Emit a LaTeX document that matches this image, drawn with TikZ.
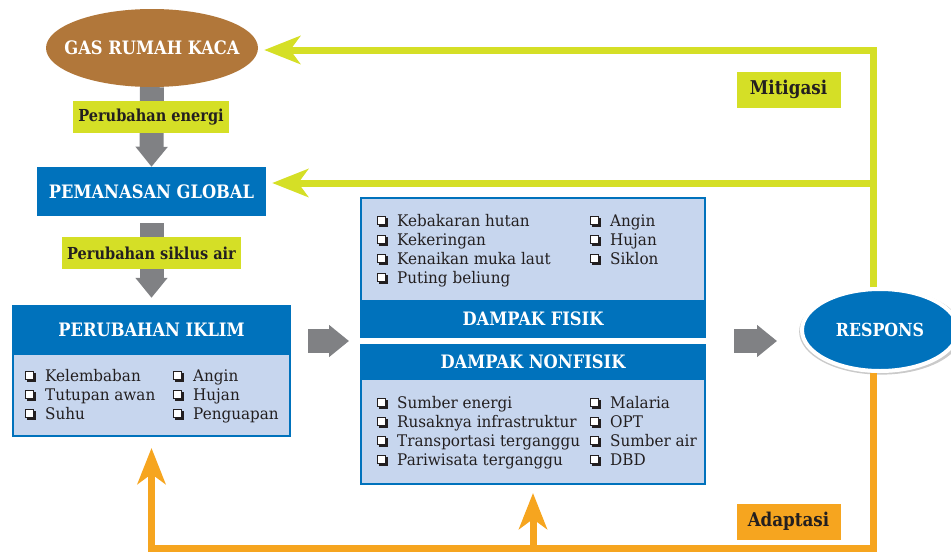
\documentclass[tikz,border=0pt]{standalone}
\usepackage{fontspec}
\setmainfont{DejaVu Serif}[FakeStretch=0.95]
\newfontfamily\tebal{DejaVu Serif}[FakeStretch=0.88]
\usetikzlibrary{arrows.meta,shapes.geometric,shadows}
\definecolor{kaca}{HTML}{B1773A}
\definecolor{biru}{HTML}{0072BC}
\definecolor{birumuda}{HTML}{C7D6EE}
\definecolor{hijau}{HTML}{D5DF26}
\definecolor{jingga}{HTML}{F6A51F}
\definecolor{abu}{HTML}{808184}
\definecolor{ink}{HTML}{231F20}

\tikzset{
	judul/.style={text=white, font=\tebal\bfseries\fontsize{18.5}{22}\selectfont},
	tagbox/.style={text=ink, inner sep=0pt, minimum height=32pt, font=\tebal\bfseries\fontsize{16.5}{20}\selectfont},
	item/.style={anchor=base west, inner sep=0pt, text=ink, font=\fontsize{16}{19}\selectfont},
	kotak/.style={draw=biru, line width=2pt, fill=birumuda},
	blok/.style={abu, line width=24pt, -{Triangle[length=20pt, width=31pt]}},
	mitline/.style={hijau, line width=7pt, -{Stealth[length=36pt, width=28pt, inset=10pt]}},
	adaline/.style={jingga, line width=7pt, -{Stealth[length=36pt, width=28pt, inset=10pt]}}
}

% one list entry: name, x, baseline, text
\newcommand{\checkitem}[4]{
	\fill[ink] (#2+2, -#3-1) rectangle (#2+11, -#3+8);
	\filldraw[fill=white, draw=ink, line width=1pt] (#2, -#3+1.5) rectangle (#2+8.5, -#3+10);
	\node[item] (#1) at (#2+20, -#3) {#4};
}

\begin{document}
\begin{tikzpicture}[x=1pt, y=1pt]
	\useasboundingbox (0, 0) rectangle (951, -552);

	% chain on the left
	\node[ellipse, fill=kaca, inner sep=0pt, minimum width=212pt, minimum height=78pt, judul] (gas) at (152, -48) {\makebox[0pt]{GAS RUMAH KACA}};
	\node[fill=biru, minimum width=229pt, minimum height=49pt, judul] (pemanasan) at (151.5, -191.5) {PEMANASAN GLOBAL};
	\node[kotak, minimum width=277pt, minimum height=130pt] (iklim) at (151.5, -371) {};
	\node[fill=biru, minimum width=279pt, minimum height=50pt, judul] (iklimjudul) at (151.5, -330) {PERUBAHAN IKLIM};

	% the two impact boxes
	\node[kotak, minimum width=344pt, minimum height=139pt] (fisik) at (533, -267.5) {};
	\node[fill=biru, minimum width=346pt, minimum height=38pt, judul] (fisikjudul) at (533, -319) {DAMPAK FISIK};
	\node[kotak, minimum width=344pt, minimum height=139pt] (nonfisik) at (533, -414.5) {};
	\node[fill=biru, minimum width=346pt, minimum height=36pt, judul] (nonfisikjudul) at (533, -362) {DAMPAK NONFISIK};
	\coordinate (dampak) at (533, -341);

	\node[ellipse, fill=biru, draw=white, line width=4pt, minimum width=156pt, minimum height=82pt,
		drop shadow={opacity=0.35, fill=black!60, shadow xshift=1pt, shadow yshift=-1.5pt, shadow scale=1.05},
		judul, font=\tebal\bfseries\fontsize{18}{22}\selectfont] (respons) at (880, -330) {RESPONS};

	% grey block arrows
	\draw[blok] (gas.south) -- (pemanasan.north);
	\draw[blok, shorten <=7pt, shorten >=7pt] (pemanasan.south) -- (iklimjudul.north);
	\draw[blok, shorten <=17pt, shorten >=11pt] (iklim.east |- dampak) -- (fisik.west |- dampak);
	\draw[blok, shorten <=28pt, shorten >=23pt] (fisik.east |- dampak) -- (respons.west |- dampak);

	\node[tagbox, fill=hijau, minimum width=156pt] (energi) at (151, -117) {Perubahan energi};
	\node[tagbox, fill=hijau, minimum width=179pt] (siklus) at (151.5, -253) {Perubahan siklus air};

	% mitigation lines
	\coordinate (mitatas) at (873, -50);
	\coordinate (mittengah) at (873, -183);
	\draw[mitline, shorten >=6pt] (respons.north -| mitatas) -- (mitatas) -- (mitatas -| gas.east);
	\draw[mitline, shorten >=6pt] (mittengah) -- (mittengah -| pemanasan.east);
	\node[tagbox, fill=hijau, minimum width=104pt, minimum height=36pt, font=\tebal\bfseries\fontsize{19}{22}\selectfont] (mitigasi) at (788.5, -89.5) {Mitigasi};

	% adaptation lines
	\coordinate (adabawah) at (873, -548);
	\draw[adaline, shorten >=11pt] (respons.south -| adabawah) -- (adabawah) -- (adabawah -| iklim.south) -- (iklim.south);
	\draw[adaline, shorten >=8pt] (adabawah -| nonfisik.south) -- (nonfisik.south);
	\node[tagbox, fill=jingga, minimum width=104pt, minimum height=36pt, font=\tebal\bfseries\fontsize{19}{22}\selectfont] (adaptasi) at (788.5, -521.5) {Adaptasi};

	% lists
	\foreach \t/\b [count=\i] in {Kelembaban/381, Tutupan awan/400, Suhu/419}
		{\checkitem{ika\i}{25}{\b}{\t}}
	\foreach \t/\b [count=\i] in {Angin/381, Hujan/400, Penguapan/419}
		{\checkitem{ikb\i}{173}{\b}{\t}}
	\foreach \t/\b [count=\i] in {Kebakaran hutan/226, Kekeringan/245, Kenaikan muka laut/264, Puting beliung/283}
		{\checkitem{fsa\i}{377}{\b}{\t}}
	\foreach \t/\b [count=\i] in {Angin/226, Hujan/245, Siklon/264}
		{\checkitem{fsb\i}{590}{\b}{\t}}
	\foreach \t/\b [count=\i] in {Sumber energi/408, Rusaknya infrastruktur/427, Transportasi terganggu/446, Pariwisata terganggu/465}
		{\checkitem{nfa\i}{377}{\b}{\t}}
	\foreach \t/\b [count=\i] in {Malaria/408, OPT/427, Sumber air/446, DBD/465}
		{\checkitem{nfb\i}{590}{\b}{\t}}
\end{tikzpicture}
\end{document}
